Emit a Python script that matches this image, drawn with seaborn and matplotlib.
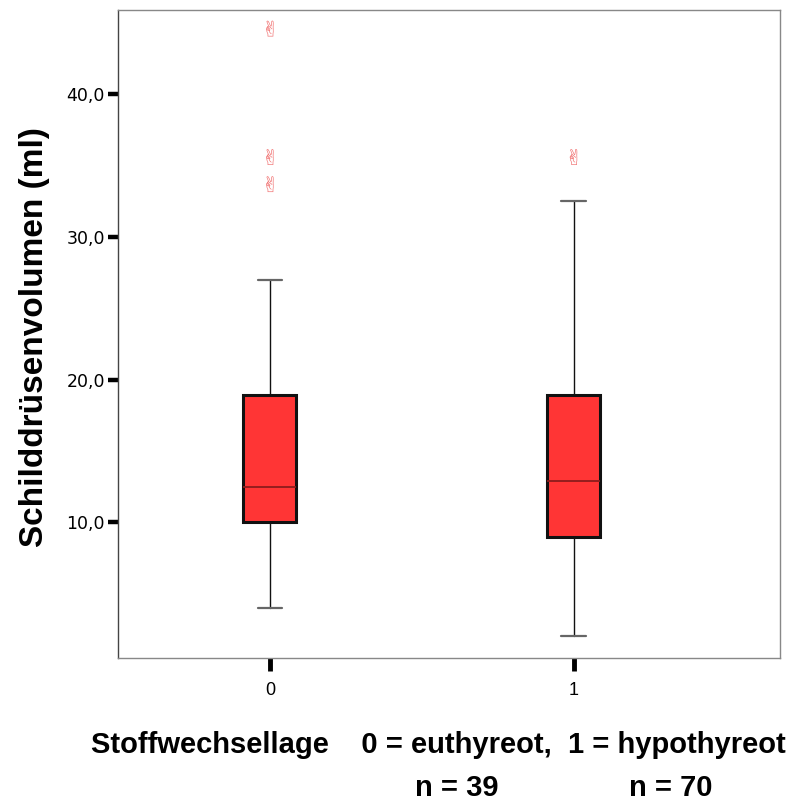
import matplotlib
matplotlib.use("Agg")
import matplotlib.pyplot as plt
import seaborn as sns
import pandas as pd

# ---- data ----
groups = ["0", "1"]
whisker_low = [4.0, 2.05]
q1 = [10.0, 9.0]
median = [12.45, 12.9]
q3 = [18.9, 18.9]
whisker_high = [26.95, 32.5]
outlier_group = [0, 0, 0, 1]
outlier_value = [44.6, 35.6, 33.7, 35.6]
y_ticks = [10.0, 20.0, 30.0, 40.0]
y_tick_labels = ["10,0", "20,0", "30,0", "40,0"]
n_counts = [39, 70]

sns.set_theme(style="white")
plt.rcParams["font.family"] = ["Liberation Sans", "DejaVu Sans"]
plt.rcParams["text.color"] = "black"
plt.rcParams["axes.labelcolor"] = "black"
plt.rcParams["xtick.color"] = "black"
plt.rcParams["ytick.color"] = "black"

fig = plt.figure(figsize=(7.89, 8.01), dpi=100)
ax = fig.add_axes([118 / 789, 1 - 658 / 801, (780 - 118) / 789, (658 - 10) / 801])

stats = []
for i, g in enumerate(groups):
    stats.append(dict(label=g, whislo=whisker_low[i], q1=q1[i], med=median[i],
                      q3=q3[i], whishi=whisker_high[i], fliers=[]))

ax.bxp(stats, positions=[0, 1], widths=0.175, patch_artist=True,
       showfliers=False,
       boxprops=dict(facecolor="#ff3535", edgecolor="#111111", linewidth=2.2),
       medianprops=dict(color="#8b1c1c", linewidth=1.3),
       whiskerprops=dict(color="#111111", linewidth=1.0),
       capprops=dict(color="#666666", linewidth=1.6),
       capwidths=0.08)

out_df = pd.DataFrame({"x": outlier_group, "y": outlier_value})
sns.scatterplot(data=out_df, x="x", y="y", ax=ax, marker="$✌$", s=130,
                color="#f06a6a", edgecolor="none", linewidth=0, legend=False)

ax.set_xlim(-0.5, 1.68)
ax.set_ylim(0.5, 45.9)
ax.set_xticks([0, 1])
ax.set_xticklabels(groups)
ax.set_yticks(y_ticks)
ax.set_yticklabels(y_tick_labels, fontfamily="DejaVu Sans")
ax.tick_params(axis="x", which="both", bottom=True, direction="out", length=9,
               width=3.5, color="black", pad=8, labelcolor="black", labelsize=13)
ax.tick_params(axis="y", which="both", left=True, direction="out", length=7.5,
               width=3.2, color="black", pad=2, labelcolor="black", labelsize=12.5)
ax.set_xlabel("")
ax.set_ylabel("")

for side, sp in ax.spines.items():
    sp.set_visible(True)
    sp.set_color("#888888")
    sp.set_linewidth(1.0)
ax.spines["left"].set_color("#444444")

fig.text(35 / 789, 1 - 337 / 801, "Schilddrüsenvolumen (ml)", rotation=90,
         fontsize=24, fontweight="bold", ha="center", va="center", color="black")
fig.text(91 / 789, 1 - 745 / 801, "Stoffwechsellage    0 = euthyreot,  1 = hypothyreot",
         fontsize=21, fontweight="bold", ha="left", va="center", color="black")
fig.text(457 / 789, 1 - 788 / 801, f"n = {n_counts[0]}", fontsize=21,
         fontweight="bold", ha="center", va="center", color="black")
fig.text(671 / 789, 1 - 788 / 801, f"n = {n_counts[1]}", fontsize=21,
         fontweight="bold", ha="center", va="center", color="black")

fig.savefig("out.png", dpi=100)
